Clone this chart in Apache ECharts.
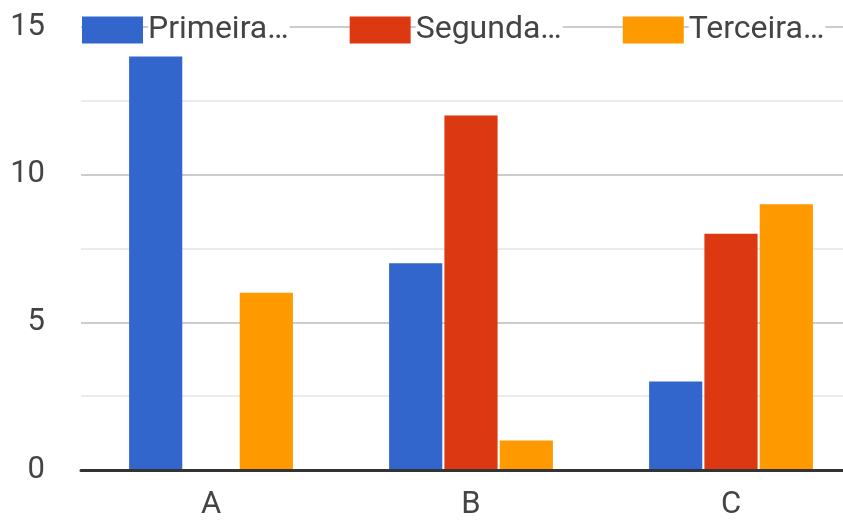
<!DOCTYPE html>
<html>
<head>
<meta charset="utf-8">
<script src="https://cdn.jsdelivr.net/npm/echarts@6/dist/echarts.min.js"></script>
<style>
  html, body { margin: 0; padding: 0; background: #fff; overflow: hidden; }
  /* The plot runs a little past the right edge of the window */
  #chart { width: 861px; height: 521px; }
</style>
</head>
<body>
<div id="chart"></div>
<script>
// Categories and series values
const categories = ['A', 'B', 'C'];
const seriesNames = ['Primeira…', 'Segunda…', 'Terceira…'];
const primeira = [14, 7, 3];
const segunda = [0, 12, 8];
const terceira = [6, 1, 9];
const seriesColors = ['#3366cc', '#dc3912', '#ff9900'];

const chart = echarts.init(document.getElementById('chart'), null, { renderer: 'canvas' });

const values = [primeira, segunda, terceira];
const series = seriesNames.map((name, i) => ({
  name: name,
  type: 'bar',
  data: values[i],
  barGap: '4%',
  barCategoryGap: '37%',
  itemStyle: { color: seriesColors[i] },
  emphasis: { disabled: true }
}));

chart.setOption({
  animation: false,
  textStyle: { fontFamily: 'Roboto' },
  color: seriesColors,
  legend: {
    top: 14,
    left: 82,
    padding: 0,
    itemWidth: 61,
    itemHeight: 27,
    itemGap: 60,
    icon: 'rect',
    textStyle: {
      fontSize: 32,
      color: '#444',
      fontFamily: 'Roboto',
      backgroundColor: '#fff',
      padding: [0, 1, 0, 0]
    },
    data: seriesNames
  },
  grid: { left: 81, right: 0, top: 27, bottom: 49, containLabel: false },
  xAxis: {
    type: 'category',
    data: categories,
    axisTick: { show: false },
    axisLine: { show: true, lineStyle: { color: '#333', width: 3 } },
    axisLabel: { fontSize: 31, color: '#444', margin: 20, fontFamily: 'Roboto' },
    z: 10
  },
  yAxis: {
    type: 'value',
    min: 0,
    max: 15,
    interval: 2.5,
    axisLine: { show: false },
    axisTick: { show: false },
    axisLabel: {
      fontSize: 31,
      color: '#444',
      margin: 36,
      fontFamily: 'Roboto',
      formatter: v => (v % 5 === 0 ? String(v) : '')
    },
    splitLine: { lineStyle: { color: ['#cccccc', '#ebebeb'], width: 2 } }
  },
  series: series
});
</script>
</body>
</html>
